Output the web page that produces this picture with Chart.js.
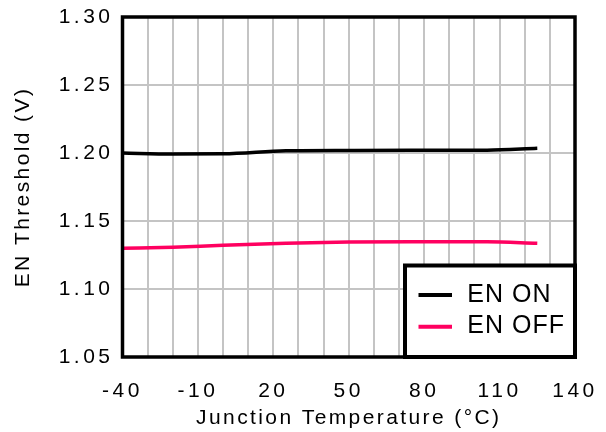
<!DOCTYPE html>
<html>
<head>
<meta charset="utf-8">
<script src="https://cdn.jsdelivr.net/npm/chart.js@4.4.1/dist/chart.umd.min.js"></script>
<style>
  html, body { margin: 0; padding: 0; background: #fff; }
</style>
</head>
<body>
<canvas id="c" width="606" height="432"></canvas>
<script>
// data
const temps = [-40, -20, 0, 25, 50, 75, 105, 125];
const enOn  = [1.2000, 1.1993, 1.1994, 1.2016, 1.2019, 1.2020, 1.2021, 1.2035];
const enOff = [1.1299, 1.1307, 1.1322, 1.1336, 1.1346, 1.1348, 1.1347, 1.1336];
const seriesNames = ['EN ON', 'EN OFF'];
const seriesColors = ['#000000', '#ff0060'];
const xTickLabels = [-40, -10, 20, 50, 80, 110, 140];
const yTickLabels = [1.05, 1.10, 1.15, 1.20, 1.25, 1.30];

const FONT = 'Liberation Sans, Arial, Helvetica, sans-serif';

function pts(ys) {
  return temps.map((t, i) => ({x: t, y: ys[i]}));
}

// the original axis text runs wider than plain Arial, so space it out a little
const spacing = {
  id: 'spacing',
  beforeLayout(chart) { chart.ctx.letterSpacing = '3.5px'; },
  beforeDraw(chart) {
    chart.ctx.letterSpacing = '3.5px';
    Object.values(chart.scales).forEach(s => {
      if (s._patched) return;
      const orig = s.drawTitle;
      s.drawTitle = function () {
        const c = this.ctx;
        const prev = c.letterSpacing;
        c.letterSpacing = '2.4px';
        orig.apply(this, arguments);
        c.letterSpacing = prev;
      };
      s._patched = true;
    });
  }
};

// thick black frame round the plot
const frame = {
  id: 'frame',
  afterDatasetsDraw(chart) {
    const {ctx, chartArea: a} = chart;
    ctx.save();
    ctx.strokeStyle = '#000';
    ctx.lineWidth = 3.5;
    ctx.strokeRect(a.left, a.top, a.right - a.left, a.bottom - a.top);
    ctx.restore();
  }
};

// boxed legend in the lower right corner
const boxLegend = {
  id: 'boxLegend',
  afterDraw(chart) {
    const {ctx, chartArea: a} = chart;
    const w = 170, h = 91.5;
    const x0 = a.right - w, y0 = a.bottom - h;
    ctx.save();
    ctx.letterSpacing = '1px';
    ctx.fillStyle = '#fff';
    ctx.fillRect(x0, y0, w, h);
    ctx.strokeStyle = '#000';
    ctx.lineWidth = 4;
    ctx.strokeRect(x0, y0, w, h);
    ctx.font = '25px ' + FONT;
    ctx.textBaseline = 'alphabetic';
    ctx.textAlign = 'left';
    chart.data.datasets.forEach((ds, i) => {
      const ly = y0 + 29.5 + i * 31.7;
      ctx.strokeStyle = ds.borderColor;
      ctx.lineWidth = 4;
      ctx.beginPath();
      ctx.moveTo(x0 + 13.5, ly);
      ctx.lineTo(x0 + 47, ly);
      ctx.stroke();
      ctx.fillStyle = '#000';
      ctx.fillText(ds.label, x0 + 62.3, ly + 6.5);
    });
    ctx.restore();
  }
};

new Chart(document.getElementById('c'), {
  type: 'line',
  data: {
    datasets: [
      {label: seriesNames[0], data: pts(enOn), borderColor: seriesColors[0], borderWidth: 3.5,
       pointRadius: 0, cubicInterpolationMode: 'monotone', fill: false},
      {label: seriesNames[1], data: pts(enOff), borderColor: seriesColors[1], borderWidth: 3.5,
       pointRadius: 0, cubicInterpolationMode: 'monotone', fill: false}
    ]
  },
  options: {
    responsive: false,
    devicePixelRatio: 1,
    animation: false,
    layout: {padding: {top: 17, right: 31, left: 0, bottom: 0}},
    plugins: {legend: {display: false}, tooltip: {enabled: false}},
    scales: {
      x: {
        type: 'linear',
        min: -40, max: 140,
        afterFit: s => { s.height = 75; s.paddingLeft = 0; s.paddingRight = 0; },
        border: {display: false},
        grid: {color: '#c4c4c4', lineWidth: 2, drawTicks: false},
        ticks: {
          stepSize: 10, autoSkip: false, maxRotation: 0, padding: 22,
          color: '#000', font: {family: FONT, size: 21},
          callback: v => xTickLabels.includes(v) ? String(v) : ''
        },
        title: {display: true, text: 'Junction Temperature (°C)', color: '#000',
                font: {family: FONT, size: 21}, padding: {top: 0, bottom: 1.5}}
      },
      y: {
        min: 1.05, max: 1.30,
        afterFit: s => { s.width = 122.5; s.paddingTop = 0; s.paddingBottom = 0; },
        border: {display: false},
        grid: {color: '#c4c4c4', lineWidth: 2, drawTicks: false},
        ticks: {
          stepSize: 0.05, padding: 9,
          color: '#000', font: {family: FONT, size: 21},
          callback: v => {
            const hit = yTickLabels.find(t => Math.abs(t - v) < 1e-6);
            return hit === undefined ? '' : hit.toFixed(2);
          }
        },
        title: {display: true, text: 'EN Threshold (V)', color: '#000',
                font: {family: FONT, size: 21}, padding: {top: 11, bottom: 0}}
      }
    }
  },
  plugins: [spacing, frame, boxLegend]
});
</script>
</body>
</html>
